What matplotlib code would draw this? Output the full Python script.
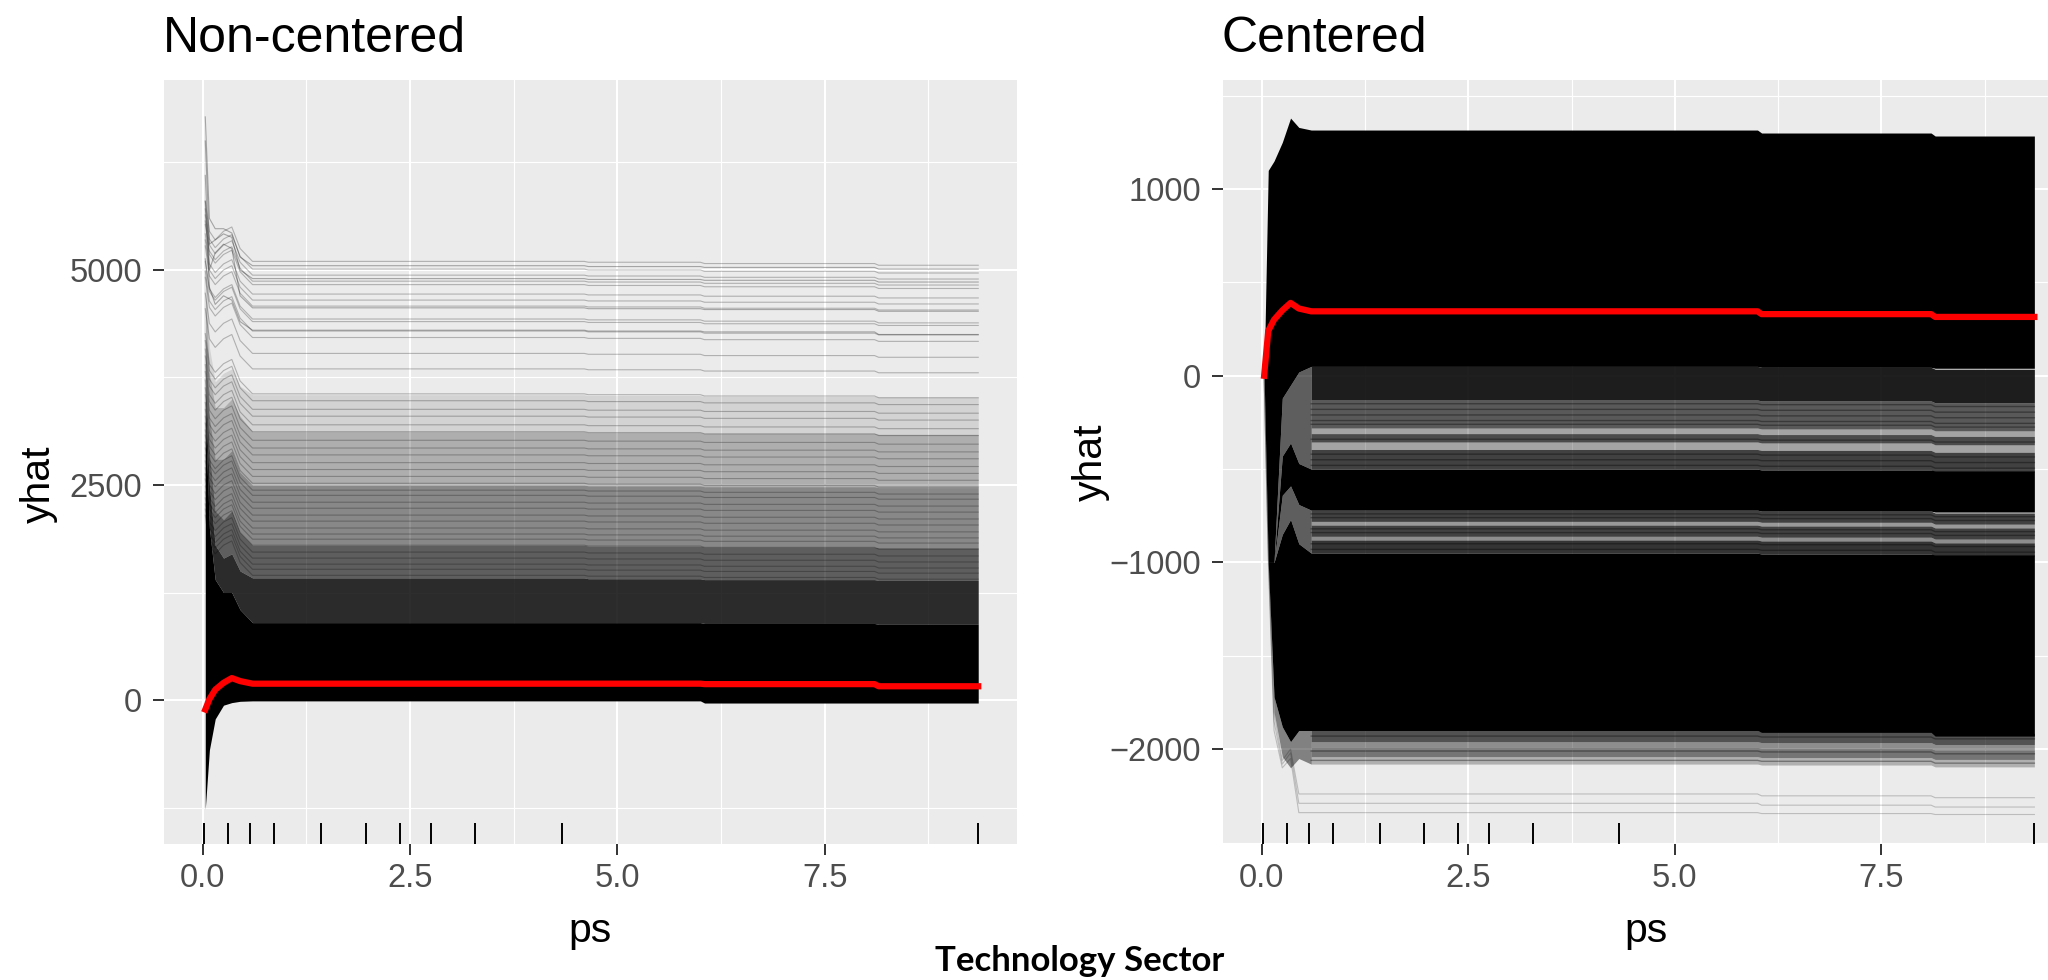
import matplotlib.pyplot as plt
import numpy as np
from matplotlib.transforms import blended_transform_factory

plt.rcParams['font.family'] = ['Liberation Sans', 'DejaVu Sans']

# grid of ps values where the ICE curves have vertices
ps_grid = [0.03, 0.08, 0.15, 0.25, 0.35, 0.45, 0.6, 4.6, 4.65, 6.0, 6.05, 8.1, 8.15, 9.35]

# rug of observed ps deciles
rug_ps = [0.02, 0.31, 0.57, 0.86, 1.43, 1.97, 2.38, 2.75, 3.28, 4.33, 9.35]

x_ticks = [0, 2.5, 5.0, 7.5]
x_labels = ['0.0', '2.5', '5.0', '7.5']

# ---- Non-centered panel ----
nc_pdp = [-110, 10, 120, 200, 255, 220, 190, 190, 190, 190, 185, 185, 160, 160]
# density bands (lower edge of first band, then upper edge of each band)
nc_core_lo = [-1270, -580, -220, -60, -30, -15, -10, -10, -10, -10, -35, -35, -35, -35]
nc_core_hi = [3300, 2000, 1400, 1250, 1250, 1050, 900, 900, 900, 900, 890, 890, 880, 880]
nc_dark_hi = [3500, 2500, 1800, 1650, 1700, 1500, 1420, 1420, 1410, 1410, 1400, 1400, 1390, 1390]
nc_mid_hi = [3700, 2900, 2200, 2100, 2200, 1950, 1800, 1800, 1790, 1790, 1780, 1780, 1770, 1770]
nc_light_hi = [4200, 3300, 2800, 2800, 2900, 2650, 2500, 2500, 2490, 2490, 2480, 2480, 2470, 2470]
nc_pale_hi = [4800, 3800, 3400, 3400, 3500, 3300, 3120, 3120, 3110, 3110, 3100, 3100, 3090, 3090]
nc_faint_hi = [5200, 4100, 3700, 3800, 3850, 3650, 3550, 3550, 3540, 3540, 3530, 3530, 3520, 3520]
nc_band_alpha = [1.0, 0.82, 0.6, 0.42, 0.26, 0.1]
# single curves: plateau level + shared shape
nc_levels = [1450, 1520, 1580, 1650, 1720, 1800, 1870, 1930, 2000, 2080, 2150, 2230, 2300,
             2380, 2440, 2520, 2600, 2680, 2760, 2850, 2930, 3020, 3120, 3200, 3300, 3380,
             3480, 3560, 3850, 4030, 4215, 4290, 4400, 4430, 4580, 4650, 4720, 4830,
             4870, 4940, 5010, 5100]
nc_shape = [700, 350, 250, 350, 400, 150, 0, 0, -10, -10, -25, -25, -45, -45]
nc_spikes = [
    [6780, 5600, 5480, 5480, 5430, 5150, 5050, 5050, 5040, 5040, 5030, 5030, 5010, 5010],
    [6500, 5300, 5350, 5420, 5380, 5000, 4900, 4900, 4890, 4890, 4880, 4880, 4860, 4860],
    [6100, 5000, 5200, 5300, 5250, 4700, 4560, 4560, 4550, 4550, 4540, 4540, 4520, 4520],
    [5800, 4800, 4600, 4700, 4650, 4400, 4300, 4300, 4290, 4290, 4280, 4280, 4250, 4250],
]

# ---- Centered panel ----
c_pdp = [0, 240, 300, 350, 390, 360, 345, 345, 345, 345, 330, 330, 315, 315]
c_top_hi = [0, 1100, 1150, 1250, 1380, 1330, 1316, 1316, 1316, 1316, 1300, 1300, 1284, 1284]
c_top_lo = [0, -1000, -1000, -120, -50, 20, 50, 50, 50, 50, 45, 45, 40, 40]
c_mid_hi = [0, -1000, -1000, -430, -360, -470, -500, -500, -500, -500, -505, -505, -510, -510]
c_mid_lo = [0, -1000, -1000, -640, -590, -690, -720, -720, -720, -720, -725, -725, -730, -730]
c_low_hi = [0, -1000, -1000, -850, -770, -900, -950, -950, -950, -950, -955, -955, -960, -960]
c_low_lo = [0, -1000, -1720, -1880, -1960, -1900, -1900, -1900, -1900, -1900, -1910, -1910, -1930, -1930]
c_floor = [0, -1000, -1800, -2040, -2100, -2050, -2080, -2080, -2080, -2080, -2090, -2090, -2100, -2100]
# plateau stripes inside the sparser gaps (edges at ps >= 0.6, and their darkness)
c_gap1_edges = [50, -130, -280, -310, -355, -395, -500]
c_gap1_alpha = [0.88, 0.62, 0.3, 0.68, 0.3, 0.72]
c_gap2_edges = [-720, -780, -800, -860, -880, -950]
c_gap2_alpha = [0.72, 0.35, 0.72, 0.4, 0.78]
c_gap3_edges = [-1900, -1960, -1990, -2040, -2080]
c_gap3_alpha = [0.65, 0.4, 0.5, 0.25]
c_gap_levels = [-150, -180, -210, -240, -260, -340, -420, -450, -480,
                -740, -760, -820, -840, -900, -930, -1930, -2010, -2060]
c_shape = [0, 0, 0, 0, 0, 0, 0, 0, 0, 0, -5, -5, -15, -15]
c_faint = [
    [0, -900, -1800, -2060, -2000, -2240, -2240, -2240, -2240, -2240, -2250, -2250, -2260, -2260],
    [0, -950, -1850, -2080, -2020, -2290, -2290, -2290, -2290, -2290, -2300, -2300, -2310, -2310],
    [0, -980, -1900, -2100, -2050, -2340, -2340, -2340, -2340, -2340, -2345, -2345, -2350, -2350],
]

W, H = 2048, 980
fig = plt.figure(figsize=(W / 100, H / 100), dpi=100)

def px_axes(left, top, right, bottom):
    return fig.add_axes([left / W, 1 - bottom / H, (right - left) / W, (bottom - top) / H])

ax1 = px_axes(164, 80, 1017, 844)
ax2 = px_axes(1223, 80, 2073, 844)

def style(ax, ylim, yticks, yminor):
    ax.set_facecolor('#EBEBEB')
    for s in ax.spines.values():
        s.set_visible(False)
    ax.set_xlim(-0.4675, 9.8175)
    ax.set_ylim(*ylim)
    ax.set_xticks(x_ticks)
    ax.set_xticklabels(x_labels)
    ax.set_xticks([1.25, 3.75, 6.25, 8.75], minor=True)
    ax.set_yticks(yticks)
    ax.set_yticks(yminor, minor=True)
    ax.grid(which='major', color='white', lw=1.5)
    ax.grid(which='minor', color='white', lw=0.8)
    ax.set_axisbelow(True)
    ax.tick_params(which='major', length=8, width=1.4, color='#333333',
                   labelcolor='#4D4D4D', labelsize=23.5)
    ax.tick_params(axis='x', pad=6)
    ax.tick_params(axis='y', pad=8)
    ax.tick_params(which='minor', length=0)
    trans = blended_transform_factory(ax.transData, ax.transAxes)
    ax.vlines(rug_ps, 0, 0.028, transform=trans, color='black', lw=1.4, zorder=5)

x = np.array(ps_grid)

# non-centered
bands = [nc_core_lo, nc_core_hi, nc_dark_hi, nc_mid_hi, nc_light_hi, nc_pale_hi, nc_faint_hi]
for i, a in enumerate(nc_band_alpha):
    ax1.fill_between(x, bands[i], bands[i + 1], color='black', alpha=a, lw=0, zorder=2)
for lv in nc_levels:
    ax1.plot(x, np.array(nc_shape) + lv, color='black', alpha=0.25, lw=0.8, zorder=3)
for s in nc_spikes:
    ax1.plot(x, s, color='black', alpha=0.3, lw=0.8, zorder=3)
ax1.plot(x, nc_pdp, color='red', lw=4.5, zorder=6)
style(ax1, (-1674, 7209), [0, 2500, 5000], [-1250, 1250, 3750, 6250])

# centered
ax2.fill_between(x, c_top_lo, c_top_hi, color='black', lw=0, zorder=2)
ax2.fill_between(x, c_mid_lo, c_mid_hi, color='black', lw=0, zorder=2)
ax2.fill_between(x, c_low_lo, c_low_hi, color='black', lw=0, zorder=2)
# gaps near the start, where the curves still fan out
head = slice(0, 7)
ax2.fill_between(x[head], c_mid_hi[head], c_top_lo[head], color='black', alpha=0.6, lw=0, zorder=2)
ax2.fill_between(x[head], c_low_hi[head], c_mid_lo[head], color='black', alpha=0.6, lw=0, zorder=2)
ax2.fill_between(x[head], c_floor[head], c_low_lo[head], color='black', alpha=0.45, lw=0, zorder=2)
# gaps on the plateau, as stripes
tail = slice(6, None)
shape_tail = np.array(c_shape[tail])
for edges, alphas in [(c_gap1_edges, c_gap1_alpha), (c_gap2_edges, c_gap2_alpha),
                      (c_gap3_edges, c_gap3_alpha)]:
    for j, a in enumerate(alphas):
        ax2.fill_between(x[tail], shape_tail + edges[j + 1], shape_tail + edges[j],
                         color='black', alpha=a, lw=0, zorder=2)
for lv in c_gap_levels:
    ax2.plot(x[tail], shape_tail + lv, color='black', alpha=0.35, lw=1.0, zorder=3)
for s in c_faint:
    ax2.plot(x, s, color='black', alpha=0.2, lw=0.8, zorder=3)
ax2.plot(x, c_pdp, color='red', lw=4.5, zorder=6)
style(ax2, (-2508, 1584), [-2000, -1000, 0, 1000], [-2500, -1500, -500, 500, 1500])

# titles and axis labels
fig.text(163 / W, 1 - 52 / H, 'Non-centered', fontsize=36, va='baseline', ha='left')
fig.text(1222 / W, 1 - 52 / H, 'Centered', fontsize=36, va='baseline', ha='left')
fig.text(58 / W, 1 - 484 / H, 'yhat', fontsize=29.5, rotation=90, ha='right', va='center')
fig.text(1110 / W, 1 - 462 / H, 'yhat', fontsize=29.5, rotation=90, ha='right', va='center')
fig.text(590 / W, 1 - 942 / H, 'ps', fontsize=29.5, ha='center', va='baseline')
fig.text(1646 / W, 1 - 942 / H, 'ps', fontsize=29.5, ha='center', va='baseline')
fig.text(1080 / W, 1 - 971 / H, 'Technology Sector', fontsize=25, fontweight='bold',
         family=['Lato', 'DejaVu Sans'], ha='center', va='baseline')

fig.savefig('out.png', dpi=100)
